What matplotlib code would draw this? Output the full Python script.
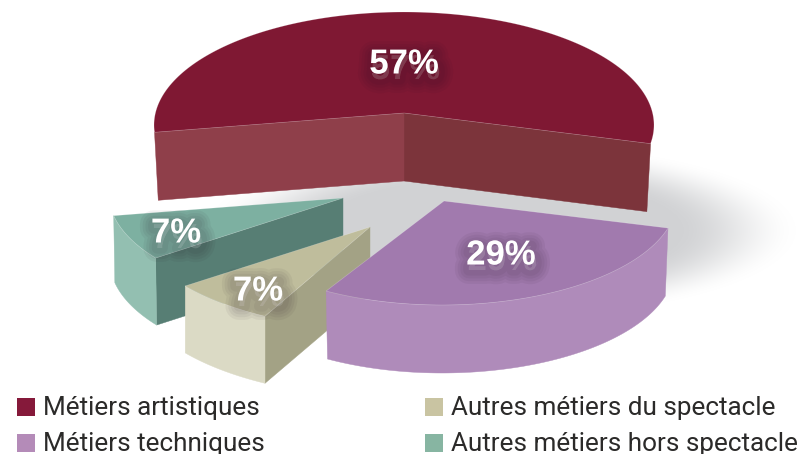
import numpy as np
import matplotlib
matplotlib.use("Agg")
import matplotlib.pyplot as plt
from matplotlib.patches import Polygon, Rectangle
import matplotlib.patheffects as pe

# Data
categories = ["Métiers artistiques", "Autres métiers hors spectacle",
              "Autres métiers du spectacle", "Métiers techniques"]
shares = [57, 7, 7, 29]
share_labels = ["57%", "7%", "7%", "29%"]

# Style / geometry per slice (same order as categories)
start_angle = -15.5
apex = [(404, 113), (343, 198), (370, 227), (444, 201)]
arc_offset = [(0, 12), (0, 0), (0, 0), (0, -1)]
radius_x = [250, 234, 235, 233]
radius_y = [113, 105, 103, 105]
skew_x = [0, -8, -14, 2]
angle_squeeze = [0.9415, 1, 1, 1]
thickness = [68, 67, 67, 68]
taper = [0.985, 0.995, 1.0, 0.988]
top_colors = ["#7F1833", "#7DB0A1", "#BFBD9C", "#A17AAE"]
outer_colors = [None, "#93BFB1", "#DBDAC5", "#AF8BBA"]
start_face = ["#7C343B", None, None, None]
end_face = ["#8F3F4A", "#577E74", "#A3A285", None]
label_xy = [(404, 64), (176, 233), (258, 291), (501, 255)]

legend_names = ["Métiers artistiques", "Métiers techniques",
                "Autres métiers du spectacle", "Autres métiers hors spectacle"]
legend_colors = ["#85193A", "#B48BB8", "#C9C4A2", "#87B5A2"]
legend_xy = [(17, 398), (17, 434), (425, 398), (425, 434)]

fig = plt.figure(figsize=(8.03, 4.54), dpi=100, facecolor="white")
ax = fig.add_axes([0, 0, 1, 1])
ax.set_xlim(0, 803)
ax.set_ylim(454, 0)
ax.axis("off")

# Soft shadow under the pie
xx, yy = np.meshgrid(np.arange(0, 803), np.arange(0, 454))
d = np.sqrt(((xx - 500) / 300.0) ** 2 + ((yy - 230) / 88.0) ** 2)
t = np.clip((1 - d) / 0.42, 0, 1)
alpha = t * t * (3 - 2 * t)
shadow = np.zeros(d.shape + (4,))
shadow[..., 0] = 0.82
shadow[..., 1] = 0.825
shadow[..., 2] = 0.835
shadow[..., 3] = alpha
ax.imshow(shadow, extent=(0, 803, 454, 0), zorder=1, aspect="auto")
ax.set_xlim(0, 803)
ax.set_ylim(454, 0)


def arc(i, a0, a1):
    mid = (a0 + a1) / 2
    a = np.radians(mid + (np.linspace(a0, a1, 160) - mid) * angle_squeeze[i])
    x = apex[i][0] + arc_offset[i][0] + radius_x[i] * np.cos(a) + skew_x[i] * np.sin(a)
    y = apex[i][1] + arc_offset[i][1] - radius_y[i] * np.sin(a)
    return np.column_stack([x, y])


def lower(i, pts):
    out = np.array(pts, dtype=float)
    out[:, 0] = apex[i][0] + (out[:, 0] - apex[i][0]) * taper[i]
    out[:, 1] = out[:, 1] + thickness[i]
    return out


angle = start_angle
z = 2
for i, value in enumerate(shares):
    span = value / sum(shares) * 360
    a0, a1 = angle, angle + span
    angle = a1
    top_arc = arc(i, a0, a1)
    ap = np.array([apex[i]], dtype=float)
    faces = []
    if start_face[i]:
        edge = np.vstack([ap, top_arc[:1]])
        faces.append((np.vstack([edge, lower(i, edge)[::-1]]), start_face[i]))
    if end_face[i]:
        edge = np.vstack([ap, top_arc[-1:]])
        faces.append((np.vstack([edge, lower(i, edge)[::-1]]), end_face[i]))
    if outer_colors[i]:
        faces.append((np.vstack([top_arc, lower(i, top_arc)[::-1]]), outer_colors[i]))
    for pts, col in faces:
        ax.add_patch(Polygon(pts, closed=True, fc=col, ec=col, lw=0.3, zorder=z))
    ax.add_patch(Polygon(np.vstack([ap, top_arc]), closed=True,
                         fc=top_colors[i], ec="#FFFFFF40", lw=0.5, zorder=z + 0.5))
    z += 1

for (x, y), s in zip(label_xy, share_labels):
    glow = [pe.Stroke(linewidth=w, foreground="#201020", alpha=0.05, offset=(1, -4))
            for w in (20, 16, 12, 8)]
    ax.text(x, y, s, ha="center", va="center", color="white",
            fontsize=25, family="Liberation Sans", weight="bold", zorder=10,
            path_effects=glow + [pe.Normal()])

for (x, y), name, col in zip(legend_xy, legend_names, legend_colors):
    ax.add_patch(Rectangle((x, y), 18, 18, fc=col, ec="none", zorder=10))
    ax.text(x + 26, y + 9.5, name, ha="left", va="center", color="#2B2A29",
            fontsize=18.8, family="Roboto", zorder=10)

fig.savefig("out.png", dpi=100)
